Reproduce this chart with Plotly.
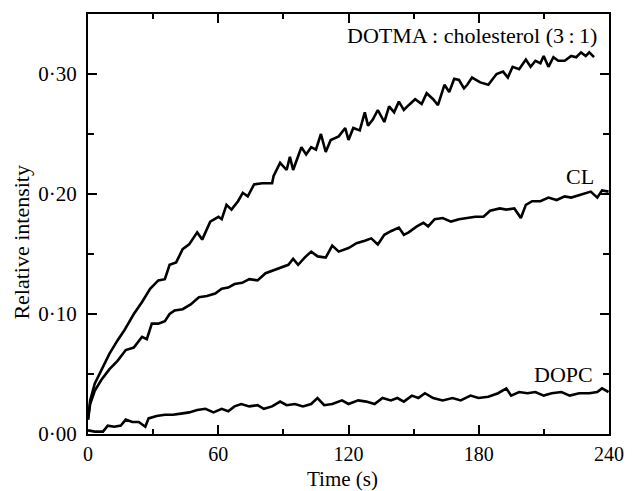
import plotly.graph_objects as go

# ---- data ----
dotma_t = [0, 1, 3.1, 6.1, 9.9, 13.6, 16.6, 21.1, 24.9, 28.6, 32.4, 35.4, 37.6, 40.6, 43.6, 46.6,
           50.3, 52.6, 56.3, 60.1, 61.6, 63.8, 66.1, 69.1, 71.3, 73.6, 76.5, 80.3, 84.8, 85.5, 88.5,
           91.5, 93.0, 94.5, 98.3, 100.5, 102.8, 105.0, 107.3, 109.5, 111.8, 115.5, 118.5, 120.0,
           122.2, 125.2, 127.5, 129.0, 131.2, 133.5, 136.5, 138.7, 141.0, 143.2, 145.5, 147.7,
           150.7, 153.7, 156.0, 159.0, 161.2, 164.2, 166.4, 168.7, 170.9, 173.2, 174.7, 176.9,
           180.7, 184.4, 188.2, 191.2, 193.4, 195.6, 198.6, 201.7, 203.9, 206.1, 208.4, 209.9,
           212.1, 214.4, 216.6, 219.6, 222.6, 224.9, 227.1, 229.3, 230.9, 233.1]
dotma_v = [0.012, 0.028, 0.042, 0.053, 0.067, 0.078, 0.086, 0.100, 0.110, 0.121, 0.128, 0.129, 0.141,
           0.143, 0.154, 0.158, 0.168, 0.162, 0.177, 0.181, 0.179, 0.191, 0.187, 0.194, 0.201, 0.198,
           0.208, 0.209, 0.209, 0.215, 0.226, 0.220, 0.231, 0.220, 0.239, 0.233, 0.239, 0.237, 0.250,
           0.235, 0.245, 0.248, 0.255, 0.245, 0.255, 0.253, 0.268, 0.257, 0.262, 0.270, 0.260, 0.273,
           0.268, 0.277, 0.270, 0.274, 0.279, 0.275, 0.284, 0.279, 0.274, 0.291, 0.285, 0.296, 0.295,
           0.288, 0.291, 0.297, 0.293, 0.291, 0.300, 0.302, 0.297, 0.306, 0.304, 0.312, 0.306, 0.311,
           0.309, 0.315, 0.306, 0.314, 0.311, 0.311, 0.315, 0.314, 0.318, 0.315, 0.318, 0.314]

cl_t = [0, 1, 3.1, 6.1, 9.9, 13.6, 17.4, 21.1, 24.9, 27.1, 29.4, 32.4, 35.4, 37.6, 39.9, 43.6, 47.3,
        51.1, 54.8, 58.6, 61.6, 64.6, 67.5, 71.0, 74.3, 78.1, 81.8, 84.8, 88.5, 92.3, 94.5, 96.8,
        99.8, 102.8, 105.8, 109.5, 112.5, 115.5, 120.0, 123.7, 127.5, 130.5, 133.5, 136.5, 139.5,
        143.2, 145.5, 147.7, 151.5, 154.5, 156.7, 159.7, 163.4, 167.2, 170.9, 174.7, 178.4, 182.2,
        185.2, 189.7, 192.7, 196.4, 199.4, 201.7, 204.6, 208.4, 212.1, 215.9, 219.6, 222.6, 226.4,
        229.3, 231.6, 234.6, 236.8, 239.8]
cl_v = [0.012, 0.025, 0.036, 0.045, 0.054, 0.061, 0.070, 0.072, 0.081, 0.079, 0.092, 0.092, 0.094,
        0.100, 0.103, 0.104, 0.108, 0.114, 0.115, 0.117, 0.121, 0.122, 0.125, 0.126, 0.129, 0.128,
        0.134, 0.136, 0.139, 0.141, 0.146, 0.141, 0.147, 0.152, 0.148, 0.147, 0.157, 0.152, 0.155,
        0.159, 0.161, 0.163, 0.158, 0.166, 0.169, 0.172, 0.166, 0.168, 0.173, 0.176, 0.173, 0.179,
        0.180, 0.177, 0.179, 0.180, 0.181, 0.181, 0.186, 0.188, 0.187, 0.188, 0.180, 0.191, 0.194,
        0.194, 0.197, 0.195, 0.198, 0.197, 0.199, 0.201, 0.202, 0.197, 0.203, 0.202]

dopc_t = [0, 3.1, 6.9, 9.1, 12.1, 15.1, 17.4, 20.4, 23.4, 26.4, 27.9, 31.6, 35.4, 39.1, 42.8, 46.6,
          50.3, 54.1, 57.8, 61.6, 64.6, 67.5, 70.6, 74.3, 78.1, 81.0, 84.8, 88.5, 91.5, 95.3, 99.0,
          102.8, 105.7, 108.8, 112.5, 117.0, 120.0, 124.5, 128.2, 132.0, 135.7, 139.5, 142.5, 145.5,
          149.2, 152.2, 155.2, 159.0, 163.4, 167.9, 171.7, 176.2, 179.9, 184.4, 188.9, 192.7, 194.9,
          198.6, 202.4, 206.1, 209.9, 213.6, 218.1, 221.9, 226.3, 230.9, 234.6, 236.8, 239.8]
dopc_v = [0.003, 0.002, 0.002, 0.007, 0.006, 0.007, 0.012, 0.010, 0.010, 0.006, 0.013, 0.015, 0.016,
          0.016, 0.017, 0.018, 0.020, 0.021, 0.018, 0.021, 0.019, 0.023, 0.025, 0.023, 0.024, 0.021,
          0.023, 0.027, 0.024, 0.025, 0.023, 0.025, 0.030, 0.024, 0.025, 0.028, 0.025, 0.028, 0.027,
          0.025, 0.030, 0.028, 0.030, 0.027, 0.032, 0.030, 0.034, 0.030, 0.028, 0.030, 0.028, 0.032,
          0.030, 0.031, 0.034, 0.038, 0.032, 0.035, 0.034, 0.035, 0.032, 0.034, 0.035, 0.032, 0.034,
          0.034, 0.035, 0.038, 0.035]

x_ticks = [0, 60, 120, 180, 240]
y_ticks = [0.0, 0.1, 0.2, 0.3]
y_ticktext = ["0\u00b700", "0\u00b710", "0\u00b720", "0\u00b730"]

labels = ["DOTMA\u2009: cholesterol (3\u2009:\u20091)", "CL", "DOPC"]
label_x = [235.5, 226.5, 218.9]
label_y = [0.332, 0.2146, 0.0493]
label_anchor = ["right", "center", "center"]

x_title = "Time (s)"
y_title = "Relative intensity"

FONT = "Liberation Serif"

fig = go.Figure()
for t, v in [(dotma_t, dotma_v), (cl_t, cl_v), (dopc_t, dopc_v)]:
    fig.add_trace(go.Scatter(x=t, y=v, mode="lines",
                             line=dict(color="black", width=2.6), showlegend=False))

for txt, lx, ly, anc in zip(labels, label_x, label_y, label_anchor):
    fig.add_annotation(x=lx, y=ly, text=txt, showarrow=False, xanchor=anc, yanchor="middle",
                       font=dict(family=FONT, size=22, color="black"))

# axis titles as annotations for precise placement
fig.add_annotation(xref="paper", yref="paper", x=0.489, y=-0.106, text=x_title, showarrow=False,
                   xanchor="center", yanchor="middle", font=dict(family=FONT, size=21, color="black"))
fig.add_annotation(xref="paper", yref="paper", x=-0.1273, y=0.4573, text=y_title, showarrow=False,
                   textangle=-90, xanchor="center", yanchor="middle",
                   font=dict(family=FONT, size=22, color="black"))

axis_common = dict(showline=True, linecolor="black", linewidth=2, mirror="allticks",
                   ticks="inside", ticklen=9, tickwidth=2, tickcolor="black",
                   showgrid=False, zeroline=False, ticklabeloverflow="allow")

fig.update_xaxes(range=[0, 240], tickvals=x_ticks, ticklabelstandoff=1,
                 tickfont=dict(family=FONT, size=20, color="black"),
                 minor=dict(ticks="inside", ticklen=5, tickwidth=2, tickcolor="black", dtick=30,
                            showgrid=False),
                 **axis_common)
fig.update_yaxes(range=[0, 0.35], tickvals=y_ticks, ticktext=y_ticktext, ticklabelstandoff=5,
                 tickfont=dict(family=FONT, size=21, color="black"),
                 minor=dict(ticks="inside", ticklen=6, tickwidth=2, tickcolor="black", dtick=0.05,
                            showgrid=False),
                 **axis_common)

fig.update_layout(width=636, height=491, margin=dict(l=88, r=14, t=12, b=57),
                  plot_bgcolor="white", paper_bgcolor="white")

fig.write_html("out.html", config={"displayModeBar": False},
               post_script="document.body.style.margin='0';document.body.style.padding='0';")
